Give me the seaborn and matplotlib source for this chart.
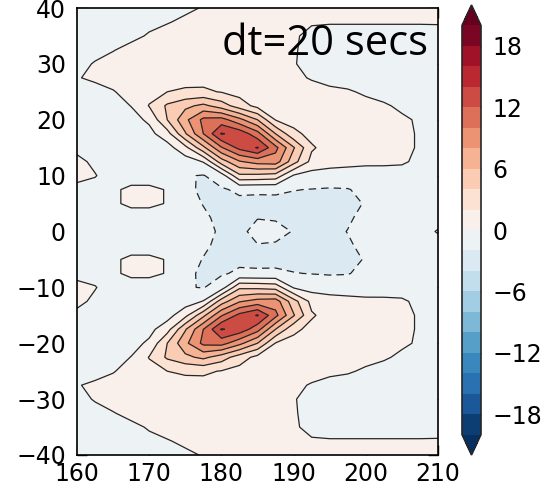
import numpy as np
import matplotlib
matplotlib.use('Agg')
import matplotlib.pyplot as plt
import seaborn as sns

# grid (longitude x latitude)
lons = [160, 162.5, 165, 167.5, 170, 172.5, 175, 177.5, 180, 182.5, 185,
        187.5, 190, 192.5, 195, 197.5, 200, 202.5, 205, 207.5, 210]
lats = [40, 37.5, 35, 32.5, 30, 27.5, 25, 22.5, 20, 17.5, 15, 12.5, 10, 7.5, 5, 2.5, 0,
        -2.5, -5, -7.5, -10, -12.5, -15, -17.5, -20, -22.5, -25, -27.5, -30, -32.5, -35, -37.5, -40]

field = [
    [-0.6, -0.6, -0.5, -0.5, -0.4, -0.3, -0.15, 0.05, 0.3, 0.4, 0.4, 0.4, 0.35, 0.3, 0.3, 0.3, 0.3, 0.3, 0.3, 0.3, 0.3],          # 40
    [-0.6, -0.6, -0.5, -0.4, -0.25, -0.05, 0.15, 0.3, 0.45, 0.5, 0.5, 0.45, 0.35, 0.15, 0.1, 0.1, 0.1, 0.1, 0.1, 0.1, 0.12],    # 37.5
    [-0.7, -0.6, -0.45, -0.25, 0.1, 0.3, 0.45, 0.55, 0.6, 0.65, 0.65, 0.55, 0.2, -0.4, -0.5, -0.5, -0.5, -0.5, -0.5, -0.5, -0.5],  # 35
    [-0.7, -0.4, -0.05, 0.3, 0.5, 0.6, 0.7, 0.75, 0.8, 0.8, 0.8, 0.7, 0.15, -0.5, -0.6, -0.6, -0.6, -0.6, -0.6, -0.6, -0.6],     # 32.5
    [-0.4, 0.1, 0.4, 0.6, 0.7, 0.8, 0.9, 0.95, 1.0, 1.0, 1.0, 0.8, 0.1, -0.5, -0.6, -0.6, -0.6, -0.6, -0.6, -0.6, -0.6],         # 30
    [-0.1, 0.3, 0.6, 0.8, 1.0, 1.2, 1.3, 1.4, 1.4, 1.4, 1.3, 1.0, 0.4, -0.15, -0.6, -0.6, -0.6, -0.6, -0.6, -0.6, -0.6],         # 27.5
    [-0.8, -0.6, -0.1, 0.6, 1.3, 2.0, 2.3, 2.3, 1.9, 1.3, 1.1, 0.9, 0.8, 0.7, 0.4, 0.15, -0.2, -0.6, -0.6, -0.6, -0.6],          # 25
    [-0.9, -0.8, -0.8, 0.05, 2.1, 4.3, 5.5, 6.5, 5.0, 3.0, 1.4, 1.2, 0.9, 0.85, 0.7, 0.5, 0.4, 0.2, -0.3, -0.5, -0.5],          # 22.5
    [-0.9, -0.9, -0.9, -0.7, 0.35, 4.0, 7.5, 10.5, 10.8, 8.6, 6.0, 1.9, 1.3, 1.0, 0.9, 0.7, 0.6, 0.45, 0.25, -0.2, -0.4],       # 20
    [-0.8, -0.9, -0.9, -0.9, -0.6, 1.2, 5.8, 10.0, 14.15, 13.3, 10.8, 6.0, 2.5, 1.4, 1.1, 0.85, 0.7, 0.55, 0.35, -0.15, -0.4],  # 17.5
    [-0.5, -0.8, -0.9, -0.9, -0.8, -0.8, 1.4, 5.5, 9.8, 12.6, 14.15, 10.6, 6.2, 2.25, 1.2, 0.9, 0.7, 0.55, 0.35, -0.15, -0.4],  # 15
    [0.5, -0.4, -0.9, -0.9, -0.9, -1.0, -1.0, 0.1, 5.0, 7.8, 8.8, 9.0, 4.8, 1.4, 0.8, 0.5, 0.3, 0.25, 0.15, -0.25, -0.4],        # 12.5
    [0.6, 0.1, -0.9, -0.9, -0.9, -1.0, -1.85, -2.1, -1.0, 3.6, 3.5, 3.2, -0.2, -0.8, -0.9, -0.8, -0.7, -0.6, -0.5, -0.5, -0.5],  # 10
    [-0.6, -0.7, -0.3, 0.4, 0.4, -0.1, -1.6, -2.3, -2.2, -1.7, -1.8, -1.75, -1.95, -2.05, -2.15, -2.1, -1.5, -1.2, -1.0, -0.8, -0.6],   # 7.5
    [-0.8, -0.8, -0.3, 0.4, 0.4, -0.1, -1.5, -2.05, -2.35, -2.4, -2.35, -2.4, -2.45, -2.45, -2.45, -2.4, -1.9, -1.5, -1.2, -0.9, -0.7], # 5
    [-0.9, -0.9, -0.9, -0.9, -0.9, -1.0, -1.4, -1.8, -2.3, -2.4, -2.05, -2.1, -2.35, -2.4, -2.35, -2.15, -1.7, -1.3, -1.0, -0.7, -0.5],  # 2.5
    [-0.9, -1.0, -1.0, -1.0, -1.0, -1.1, -1.4, -1.7, -2.15, -2.3, -1.6, -1.7, -2.05, -2.35, -2.3, -1.97, -1.6, -1.2, -0.9, -0.5, 0.1],  # 0
    [-0.9, -0.9, -0.9, -0.9, -0.9, -1.0, -1.4, -1.8, -2.3, -2.4, -2.05, -2.1, -2.35, -2.4, -2.35, -2.15, -1.7, -1.3, -1.0, -0.7, -0.5],  # -2.5
    [-0.8, -0.8, -0.3, 0.4, 0.4, -0.1, -1.5, -2.05, -2.35, -2.4, -2.35, -2.4, -2.45, -2.45, -2.45, -2.4, -1.9, -1.5, -1.2, -0.9, -0.7], # -5
    [-0.6, -0.7, -0.3, 0.4, 0.4, -0.1, -1.6, -2.3, -2.2, -1.7, -1.8, -1.75, -1.95, -2.05, -2.15, -2.1, -1.5, -1.2, -1.0, -0.8, -0.6],   # -7.5
    [0.6, 0.1, -0.9, -0.9, -0.9, -1.0, -1.85, -2.1, -1.0, 3.6, 3.5, 3.2, -0.2, -0.8, -0.9, -0.8, -0.7, -0.6, -0.5, -0.5, -0.5],  # -10
    [0.5, -0.4, -0.9, -0.9, -0.9, -1.0, -1.0, 0.1, 5.0, 7.8, 8.8, 9.0, 4.8, 1.4, 0.8, 0.5, 0.3, 0.25, 0.15, -0.25, -0.4],        # -12.5
    [-0.5, -0.8, -0.9, -0.9, -0.8, -0.8, 1.4, 5.5, 9.8, 12.6, 14.15, 10.6, 6.2, 2.25, 1.2, 0.9, 0.7, 0.55, 0.35, -0.15, -0.4],  # -15
    [-0.8, -0.9, -0.9, -0.9, -0.6, 1.2, 5.8, 10.0, 14.15, 13.3, 10.8, 6.0, 2.5, 1.4, 1.1, 0.85, 0.7, 0.55, 0.35, -0.15, -0.4],  # -17.5
    [-0.9, -0.9, -0.9, -0.7, 0.35, 4.0, 7.5, 10.5, 10.8, 8.6, 6.0, 1.9, 1.3, 1.0, 0.9, 0.7, 0.6, 0.45, 0.25, -0.2, -0.4],       # -20
    [-0.9, -0.8, -0.8, 0.05, 2.1, 4.3, 5.5, 6.5, 5.0, 3.0, 1.4, 1.2, 0.9, 0.85, 0.7, 0.5, 0.4, 0.2, -0.3, -0.5, -0.5],          # -22.5
    [-0.8, -0.6, -0.1, 0.6, 1.3, 2.0, 2.3, 2.3, 1.9, 1.3, 1.1, 0.9, 0.8, 0.7, 0.4, 0.15, -0.2, -0.6, -0.6, -0.6, -0.6],          # -25
    [-0.1, 0.3, 0.6, 0.8, 1.0, 1.2, 1.3, 1.4, 1.4, 1.4, 1.3, 1.0, 0.4, -0.15, -0.6, -0.6, -0.6, -0.6, -0.6, -0.6, -0.6],         # -27.5
    [-0.4, 0.1, 0.4, 0.6, 0.7, 0.8, 0.9, 0.95, 1.0, 1.0, 1.0, 0.8, 0.1, -0.5, -0.6, -0.6, -0.6, -0.6, -0.6, -0.6, -0.6],         # -30
    [-0.7, -0.4, -0.05, 0.3, 0.5, 0.6, 0.7, 0.75, 0.8, 0.8, 0.8, 0.7, 0.15, -0.5, -0.6, -0.6, -0.6, -0.6, -0.6, -0.6, -0.6],     # -32.5
    [-0.7, -0.6, -0.45, -0.25, 0.1, 0.3, 0.45, 0.55, 0.6, 0.65, 0.65, 0.55, 0.2, -0.4, -0.5, -0.5, -0.5, -0.5, -0.5, -0.5, -0.5],  # -35
    [-0.6, -0.6, -0.5, -0.4, -0.25, -0.05, 0.15, 0.3, 0.45, 0.5, 0.5, 0.45, 0.35, 0.15, 0.1, 0.1, 0.1, 0.1, 0.1, 0.1, 0.12],    # -37.5
    [-0.6, -0.6, -0.5, -0.5, -0.4, -0.3, -0.15, 0.05, 0.3, 0.4, 0.4, 0.4, 0.35, 0.3, 0.3, 0.3, 0.3, 0.3, 0.3, 0.3, 0.3],          # -40
]

levels = np.arange(-20, 21, 2)
cbar_ticks = [-18, -12, -6, 0, 6, 12, 18]
x_ticks = [160, 170, 180, 190, 200, 210]
y_ticks = [-40, -30, -20, -10, 0, 10, 20, 30, 40]
label = 'dt=20 secs'

sns.set_style('ticks', {'xtick.direction': 'in', 'ytick.direction': 'in'})
plt.rcParams['font.family'] = ['DejaVu Sans']
plt.rcParams['text.color'] = 'black'

fig = plt.figure(figsize=(5.49, 4.92), dpi=100)
ax = fig.add_axes([77 / 549, 37 / 492, 361 / 549, 447 / 492])
cax = fig.add_axes([462 / 549, 37 / 492, 19 / 549, 450 / 492])

cmap = sns.color_palette('RdBu_r', as_cmap=True)
Z = np.array(field)
cf = ax.contourf(lons, lats, Z, levels=levels, cmap=cmap, extend='both')
ax.contour(lons, lats, Z, levels=levels, colors='0.15', linewidths=0.9,
           negative_linestyles=(0, (6, 4)))

ax.set_xlim(160, 210)
ax.set_ylim(-40, 40)
ax.set_xticks(x_ticks)
ax.set_yticks(y_ticks)
ax.tick_params(direction='in', length=7, width=1, labelsize=17, top=True, right=True, colors='black')
ax.tick_params(axis='x', pad=5)
ax.tick_params(axis='y', pad=8)
for sp in ax.spines.values():
    sp.set_linewidth(1.2)
    sp.set_color('black')

cb = fig.colorbar(cf, cax=cax, ticks=cbar_ticks)
cb.ax.tick_params(direction='in', length=8, width=1, labelsize=17, pad=8, colors='black')
cb.outline.set_linewidth(1.2)

fig.text(222 / 549, (492 - 55) / 492, label, fontsize=30, family='Open Sans',
         color='black', ha='left', va='baseline')

fig.savefig('out.png', dpi=100)
